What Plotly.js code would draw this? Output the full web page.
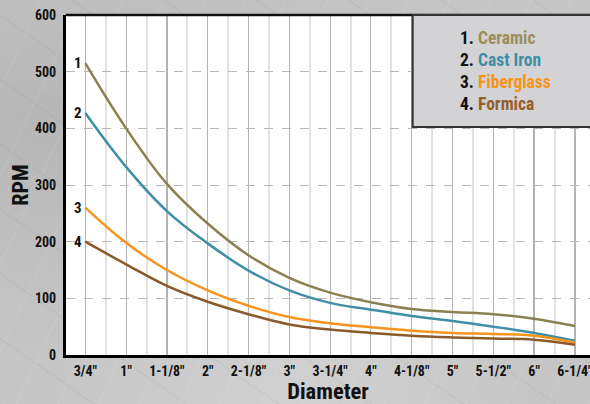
<!DOCTYPE html>
<html>
<head>
<meta charset="utf-8">
<script src="https://cdn.plot.ly/plotly-3.0.1.min.js"></script>
<style>
html,body{margin:0;padding:0;}
body{
  width:590px;height:404px;overflow:hidden;
  background-color:#c6c6c6;
  background-image:
    repeating-linear-gradient(115deg, rgba(255,255,255,0.07) 0px, rgba(255,255,255,0.07) 1px, rgba(0,0,0,0) 2px, rgba(0,0,0,0) 37px),
    repeating-linear-gradient(35deg, rgba(0,0,0,0.035) 0px, rgba(0,0,0,0.035) 1px, rgba(0,0,0,0) 2px, rgba(0,0,0,0) 53px),
    radial-gradient(ellipse at 10% 30%, rgba(0,0,0,0.08), rgba(0,0,0,0) 60%),
    radial-gradient(ellipse at 50% 100%, rgba(255,255,255,0.18), rgba(255,255,255,0) 60%);
}
#chart{width:590px;height:404px;}
</style>
</head>
<body>
<div id="chart"></div>
<script>
const categories = ['3/4"','1"','1-1/8"','2"','2-1/8"','3"','3-1/4"','4"','4-1/8"','5"','5-1/2"','6"','6-1/4"'];
const seriesNames = ['Ceramic','Cast Iron','Fiberglass','Formica'];
const ceramic    = [515,400,302,232,176,136,110,93,81,76,72,64,51];
const castIron   = [427,332,254,197,149,114,92,80,69,60,50,39,25];
const fiberglass = [260,198,150,114,87,67,56,49,43,39,37,34,22];
const formica    = [200,160,122,94,72,54,45,39,34,31,29,27,18];
const yTicks = [0,100,200,300,400,500,600];

const lineColors = ['#8a8153','#3f8ea6','#f7941d','#8b5a2b'];
const textColors = ['#9a8f5a','#3f8ea6','#f7941d','#93602c'];
const seriesValues = [ceramic, castIron, fiberglass, formica];
const xIdx = categories.map((c,i)=>i);
const FONT = 'Roboto Condensed, Roboto, Liberation Sans Narrow, sans-serif';

const traces = seriesValues.map((vals,k)=>({
  x: xIdx, y: vals, type:'scatter', mode:'lines', name: seriesNames[k],
  line:{color: lineColors[k], width:2.5, shape:'spline', smoothing:1.1},
  showlegend:false, hoverinfo:'skip'
}));

const annotations = [];
seriesValues.forEach((vals,k)=>{
  annotations.push({x:0, y:vals[0], xref:'x', yref:'y', text:String(k+1), showarrow:false,
    xanchor:'right', yanchor:'middle', xshift:-1,
    font:{family:FONT, size:15, color:'#111', weight:'bold'}});
});
const legY = [0.9332,0.8676,0.8029,0.7382];
seriesNames.forEach((n,k)=>{
  annotations.push({x:0.7475, y:legY[k], xref:'paper', yref:'paper', showarrow:false,
    xanchor:'left', yanchor:'middle',
    text:'<span style="color:#111">'+(k+1)+'.</span> <span style="color:'+textColors[k]+'">'+n+'</span>',
    font:{family:FONT, size:17.5, weight:'bold'}});
});

const layout = {
  width:590, height:404,
  margin:{l:66, r:0, t:15, b:49},
  paper_bgcolor:'rgba(0,0,0,0)',
  plot_bgcolor:'#ffffff',
  showlegend:false,
  xaxis:{
    range:[-0.473, 12.37],
    tickmode:'array', tickvals:xIdx, ticktext:categories,
    showgrid:true, gridcolor:'#b3b3b3', gridwidth:1.2,
    minor:{tickmode:'linear', tick0:0.5, dtick:1, showgrid:true, gridcolor:'#e2e2e2', gridwidth:2, ticks:''},
    zeroline:false, showline:true, linecolor:'#000', linewidth:3,
    ticks:'', ticklabelstandoff:1, ticklabeloverflow:'allow',
    tickfont:{family:FONT, size:14, color:'#111', weight:'bold'},
    title:{text:'Diameter', standoff:1, font:{family:FONT, size:22.5, color:'#111', weight:'bold'}},
    fixedrange:true
  },
  yaxis:{
    range:[0,600],
    tickmode:'array', tickvals:yTicks,
    showgrid:true, gridcolor:'#b8b8b8', gridwidth:1, griddash:'dash',
    zeroline:false, showline:true, linecolor:'#000', linewidth:3,
    ticks:'', ticklabelstandoff:4,
    tickfont:{family:FONT, size:14, color:'#111', weight:'bold'},
    title:{text:'RPM', standoff:1, font:{family:FONT, size:22, color:'#111', weight:'bold'}},
    fixedrange:true
  },
  shapes:[
    {type:'line', xref:'paper', yref:'paper', x0:0, x1:1.02, y0:1, y1:1, line:{color:'#111', width:2.5}, layer:'above'},
    {type:'rect', xref:'paper', yref:'paper', x0:0.6616, x1:1.05, y0:0.6706, y1:1, fillcolor:'#d3d3d5', line:{color:'#333', width:2}, layer:'above'}
  ],
  annotations: annotations
};

Plotly.newPlot('chart', traces, layout, {staticPlot:true, displayModeBar:false});
</script>
</body>
</html>
